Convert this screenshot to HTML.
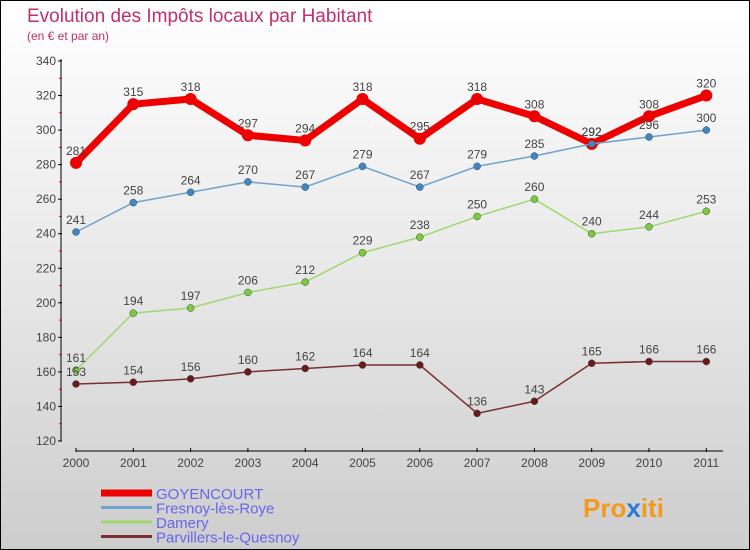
<!DOCTYPE html>
<html><head><meta charset="utf-8"><style>
body{margin:0}
#c{width:748px;height:548px;border:1px solid #000;background:linear-gradient(#fff 0%,#e8e8e8 50%,#cdcdcd 100%);position:relative;font-family:"Liberation Sans",sans-serif}
</style></head><body>
<div id="c">
<svg id="s" width="748" height="548" style="position:absolute;left:0;top:0">
<text x="26" y="21" font-size="19" fill="#c0306a">Evolution des Impôts locaux par Habitant</text>
<text x="26" y="39" font-size="12" fill="#c0306a">(en € et par an)</text>
<g id="axes"></g><g id="series"></g><g id="legend"></g>
<text x="582" y="516" font-size="26" font-weight="bold" fill="#f39a1e">Pro<tspan fill="#2b7bd6">x</tspan>iti</text>
</svg></div>
<script>
const years=["2000","2001","2002","2003","2004","2005","2006","2007","2008","2009","2010","2011"];
const yTicks=[120,140,160,180,200,220,240,260,280,300,320,340];
const goyencourt=[281,315,318,297,294,318,295,318,308,292,308,320];
const fresnoy=[241,258,264,270,267,279,267,279,285,292,296,300];
const damery=[161,194,197,206,212,229,238,250,260,240,244,253];
const parvillers=[153,154,156,160,162,164,164,136,143,165,166,166];
const names=["GOYENCOURT","Fresnoy-lès-Roye","Damery","Parvillers-le-Quesnoy"];
const NS="http://www.w3.org/2000/svg";
function X(i){return 75+i*57.3;}
function Y(v){return 60+(340-v)*(380/220);}
function mk(t,a,p){const e=document.createElementNS(NS,t);for(const k in a)e.setAttribute(k,a[k]);p.appendChild(e);return e;}
const ax=document.getElementById('axes');
let e=mk('line',{x1:60,y1:58,x2:60,y2:440,stroke:'#000'},ax);

e=mk('line',{x1:75,y1:450,x2:722,y2:450,stroke:'#000'},ax);

yTicks.forEach(v=>{mk('line',{x1:57,y1:Y(v),x2:61,y2:Y(v),stroke:'#000'},ax);
 if(v<340)mk('line',{x1:58,y1:Y(v+10),x2:61,y2:Y(v+10),stroke:'#e00'},ax);
 const t=mk('text',{x:55,y:Y(v)+4,'font-size':12,fill:'#444','text-anchor':'end'},ax);t.textContent=v;
 });
years.forEach((y,i)=>{mk('line',{x1:X(i),y1:447,x2:X(i),y2:451,stroke:'#000'},ax);
 const t=mk('text',{x:X(i),y:466,'font-size':12,fill:'#444','text-anchor':'middle'},ax);t.textContent=y;
 });
const sg=document.getElementById('series');
const defs=[[goyencourt,'#e00','#e00',7,6,'goyencourt'],[fresnoy,'#6fa3cf','#3e88c8',1.5,3.5,'fresnoy'],[damery,'#9fd870','#7acb3d',1.5,3.5,'damery'],[parvillers,'#7a3030','#6a1a1a',1.5,3.5,'parvillers']];
defs.forEach(([d,lc,pc,w,r,n])=>{
 const g=mk('g',{},sg);
 const p=mk('polyline',{points:d.map((v,i)=>X(i)+','+Y(v)).join(' '),fill:'none',stroke:lc,'stroke-width':w,'stroke-linejoin':'round'},g);
 
 d.forEach((v,i)=>{const c=mk('circle',{cx:X(i),cy:Y(v),r:r,fill:pc,stroke:n==='goyencourt'?'none':'#444','stroke-width':0.5},g);
  
  const t=mk('text',{x:X(i),y:Y(v)-8,'font-size':12,fill:'#444','text-anchor':'middle'},g);t.textContent=v;
  });
});
const lg=document.getElementById('legend');
defs.forEach((d,i)=>{const y=492+i*14.5;
 const l=mk('line',{x1:100,y1:y,x2:151,y2:y,stroke:d[1],'stroke-width':i?3:7},lg);
 
 const t=mk('text',{x:155,y:y+6,'font-size':15,fill:'#6666ee'},lg);t.textContent=names[i];
 });
</script></body></html>
